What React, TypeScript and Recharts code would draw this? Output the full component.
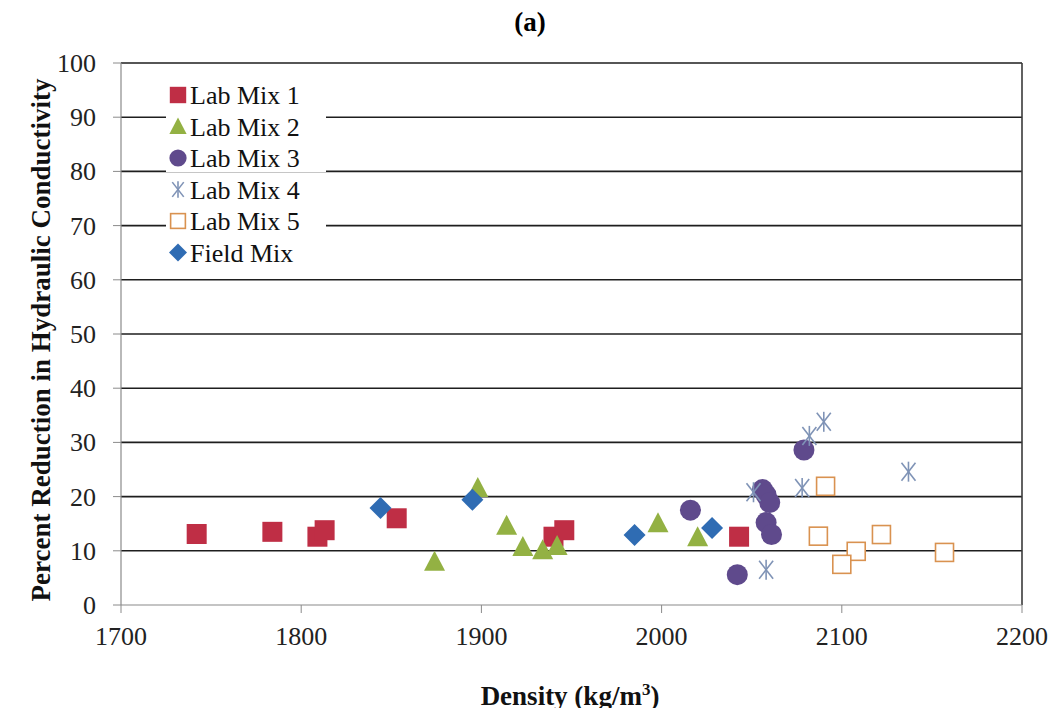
import React from "react";
import { ScatterChart, Scatter, XAxis, YAxis, ReferenceLine } from "recharts";

// ---- data ----
const labMix1Density = [1742, 1784, 1809, 1813, 1853, 1940, 1946, 2043];
const labMix1Reduction = [13.1, 13.5, 12.6, 13.8, 16.0, 12.6, 13.8, 12.6];

const labMix2Density = [1874, 1898, 1914, 1923, 1934, 1942, 1998, 2020];
const labMix2Reduction = [8.0, 21.6, 14.6, 10.7, 10.1, 10.9, 15.1, 12.5];

const labMix3Density = [2016, 2042, 2056, 2058, 2060, 2058, 2061, 2079];
const labMix3Reduction = [17.5, 5.6, 21.3, 20.3, 18.9, 15.2, 13.0, 28.6];

const labMix4Density = [2090, 2082, 2137, 2051, 2078, 2058];
const labMix4Reduction = [33.8, 31.2, 24.6, 20.8, 21.6, 6.5];

const labMix5Density = [2091, 2087, 2108, 2100, 2122, 2157];
const labMix5Reduction = [21.9, 12.7, 9.9, 7.5, 13.0, 9.7];

const fieldMixDensity = [1844, 1895, 1985, 2028];
const fieldMixReduction = [17.9, 19.4, 12.9, 14.2];

const xTicks = [1700, 1800, 1900, 2000, 2100, 2200];
const yTicks = [0, 10, 20, 30, 40, 50, 60, 70, 80, 90, 100];
const gridValues = [10, 20, 30, 40, 50, 60, 70, 80, 90, 100];

const toRows = (xs: number[], ys: number[]) => xs.map((x, i) => ({ x, y: ys[i] }));

type Kind = "square" | "triangle" | "circle" | "star" | "open" | "diamond";

const series: { name: string; kind: Kind; color: string; data: { x: number; y: number }[] }[] = [
  { name: "Lab Mix 1", kind: "square", color: "#BF2E45", data: toRows(labMix1Density, labMix1Reduction) },
  { name: "Lab Mix 2", kind: "triangle", color: "#93B143", data: toRows(labMix2Density, labMix2Reduction) },
  { name: "Lab Mix 3", kind: "circle", color: "#5F4A8C", data: toRows(labMix3Density, labMix3Reduction) },
  { name: "Lab Mix 4", kind: "star", color: "#7F93B6", data: toRows(labMix4Density, labMix4Reduction) },
  { name: "Lab Mix 5", kind: "open", color: "#D99250", data: toRows(labMix5Density, labMix5Reduction) },
  { name: "Field Mix", kind: "diamond", color: "#2F6CB3", data: toRows(fieldMixDensity, fieldMixReduction) },
];

function Marker({ kind, color, cx, cy, s = 1 }: { kind: Kind; color: string; cx: number; cy: number; s?: number }) {
  if (cx == null || cy == null) return null;
  switch (kind) {
    case "square":
      return <rect x={cx - 10 * s} y={cy - 10 * s} width={20 * s} height={20 * s} fill={color} />;
    case "triangle":
      return (
        <polygon
          points={`${cx},${cy - 11 * s} ${cx + 10.5 * s},${cy + 9 * s} ${cx - 10.5 * s},${cy + 9 * s}`}
          fill={color}
        />
      );
    case "circle":
      return <circle cx={cx} cy={cy} r={10.5 * s} fill={color} />;
    case "star":
      return (
        <g stroke={color} strokeWidth={1.6} fill="none">
          <line x1={cx - 7 * s} y1={cy - 9 * s} x2={cx + 7 * s} y2={cy + 9 * s} />
          <line x1={cx - 7 * s} y1={cy + 9 * s} x2={cx + 7 * s} y2={cy - 9 * s} />
          <line x1={cx} y1={cy - 10 * s} x2={cx} y2={cy + 10 * s} />
        </g>
      );
    case "open":
      return (
        <rect
          x={cx - 9 * s}
          y={cy - 9 * s}
          width={18 * s}
          height={18 * s}
          fill="#ffffff"
          stroke={color}
          strokeWidth={1.6}
        />
      );
    case "diamond":
      return (
        <polygon
          points={`${cx},${cy - 11 * s} ${cx + 11 * s},${cy} ${cx},${cy + 11 * s} ${cx - 11 * s},${cy}`}
          fill={color}
        />
      );
  }
  return null;
}

const serif = "'Times New Roman', 'Liberation Serif', serif";

function XTick(props: any) {
  const { x, y, payload } = props;
  return (
    <text x={x} y={y} dy={20} textAnchor="middle" style={{ fontFamily: serif }} fontSize={26} fill="#222">
      {payload.value}
    </text>
  );
}

function YTick(props: any) {
  const { x, y, payload } = props;
  return (
    <text x={x} y={y} dy={9} textAnchor="end" style={{ fontFamily: serif }} fontSize={26} fill="#222">
      {payload.value}
    </text>
  );
}

export default function App() {
  const W = 1044;
  const H = 700;
  return (
    <div style={{ position: "relative", width: W, height: H, fontFamily: serif }}>
      <ScatterChart width={W} height={H} margin={{ top: 55, right: 30, left: 0, bottom: 53 }} style={{ fontFamily: serif }}>
        <XAxis
          type="number"
          dataKey="x"
          domain={[1700, 2200]}
          ticks={xTicks}
          interval={0}
          allowDataOverflow
          height={50}
          tickSize={8}
          tickMargin={12}
          axisLine={{ stroke: "#8a8a8a", strokeWidth: 1.2 }}
          tickLine={{ stroke: "#8a8a8a" }}
          tick={<XTick />}
        />
        <YAxis
          type="number"
          dataKey="y"
          domain={[0, 100]}
          ticks={yTicks}
          interval={0}
          width={113}
          tickSize={8}
          tickMargin={17}
          axisLine={{ stroke: "#8a8a8a", strokeWidth: 1.2 }}
          tickLine={{ stroke: "#8a8a8a" }}
          tick={<YTick />}
        />
        {gridValues.map((v) => (
          <ReferenceLine key={v} y={v} stroke="#1e1e1e" strokeWidth={1.6} />
        ))}
        <ReferenceLine x={2200} stroke="#3a3a3a" strokeWidth={1.6} />
        {series.map((s) => (
          <Scatter
            key={s.name}
            name={s.name}
            data={s.data}
            isAnimationActive={false}
            shape={(p: any) => <Marker kind={s.kind} color={s.color} cx={p.cx} cy={p.cy} />}
          />
        ))}
      </ScatterChart>
      <svg
        width={W}
        height={H + 20}
        style={{ position: "absolute", left: 0, top: 0, pointerEvents: "none", overflow: "visible", fontFamily: serif }}
      >
        {series.map((s, i) => {
          const cy = 95 - 8 + i * 31.5;
          return (
            <g key={s.name}>
              <rect x={158} y={cy - 14} width={160} height={28} fill="#fff" />
              <Marker kind={s.kind} color={s.color} cx={178 - 8} cy={cy} s={0.82} />
              <text x={190 - 8} y={cy + 9} style={{ fontFamily: serif }} fontSize={26} fill="#111">
                {s.name}
              </text>
            </g>
          );
        })}
        <text x={530 - 8} y={31 - 8} textAnchor="middle" style={{ fontFamily: serif }} fontWeight="bold" fontSize={27} fill="#000">
          (a)
        </text>
        <text
          transform={`translate(${50 - 8}, ${340 - 8}) rotate(-90)`}
          textAnchor="middle"
          style={{ fontFamily: serif }}
          fontWeight="bold"
          fontSize={27}
          fill="#111"
        >
          Percent Reduction in Hydraulic Conductivity
        </text>
        <text x={570 - 8} y={705 - 8} textAnchor="middle" style={{ fontFamily: serif }} fontWeight="bold" fontSize={27} fill="#111">
          Density (kg/m
          <tspan dy={-10} fontSize={17}>
            3
          </tspan>
          <tspan dy={10}>)</tspan>
        </text>
      </svg>
    </div>
  );
}
